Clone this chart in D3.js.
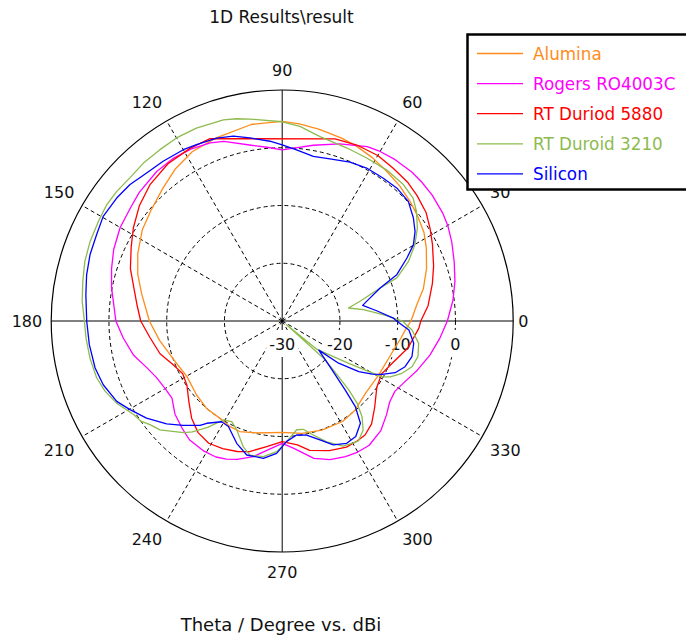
<!DOCTYPE html>
<html><head><meta charset="utf-8">
<script src="https://cdn.jsdelivr.net/npm/d3@7"></script>
<style>
html,body{margin:0;padding:0;background:#fff;}
svg{display:block;font-family:"DejaVu Sans",Verdana,sans-serif;}
</style>
</head><body>
<svg id="chart" width="686" height="640"></svg>
<script>
// ---------- data ----------
const seriesNames  = ["Alumina","Rogers RO4003C","RT Duriod 5880","RT Duroid 3210","Silicon"];
const seriesColors = ["#ff8c1a","#ff00ff","#ff0000","#8dbb4e","#0000ff"];
const angleTicks   = [0,30,60,90,120,150,180,210,240,270,300,330];
const radialTicks  = [-30,-20,-10,0];
const ringValues   = [-20,-10,0];
const chartTitle   = "1D Results\\result";
const axisTitle    = "Theta / Degree vs. dBi";

const aluminaTheta = [0,7,13,20,27,32,38,43,49,55,61,67,72,79,85,90,99,110,118,125,132,140,147,155,162,169,180,189,201,210,221,229,237,244,249,257,270,280,290,301,309,319,331,344,352,356];
const aluminaDb    = [-7.7,-6.5,-4.9,-3.4,-2.0,-1.05,-0.3,0.3,1.0,1.6,2.3,2.9,3.3,3.8,4.25,4.55,4.45,3.7,3.2,2.2,0.9,-0.3,-1.1,-2.4,-3.7,-5.2,-7.0,-8.5,-10.2,-10.9,-10.4,-10.0,-10.0,-9.6,-9.5,-10.1,-10.7,-10.25,-9.9,-9.7,-10.05,-10.9,-10.85,-10.2,-9.2,-8.6];

const rogersTheta = [0,7,13,19,25,30,34,40,45,49,55,60,64,72,80,86,90,95,100,108,112,118,124,130,138,143,150,157,163,169,180,186,193,199,204,210,215,221,227,232,239,244,248,252,258,263,270,275,283,289,295,300,305,312,318,323,328,333,340,347,354];
const rogersDb    = [-1.4,-0.2,0.7,1.5,2.4,3.1,3.5,3.9,4.1,4.2,4.1,3.9,3.6,2.25,0.9,0.0,-0.35,0.2,0.9,2.7,3.25,3.7,3.9,3.8,3.3,2.8,2.4,1.7,0.9,0.1,-1.2,-2.3,-3.6,-5.2,-6.1,-6.6,-6.7,-5.4,-4.6,-3.9,-3.7,-3.8,-4.2,-4.8,-6.0,-7.4,-8.8,-7.9,-5.6,-4.6,-4.1,-3.8,-3.74,-4.47,-5.7,-6.7,-7.0,-6.4,-5.1,-3.75,-2.5];

const duroid5880Theta = [0,6,14,20,27,32,37,43,48,54,60,67,73.8,111.6,118,126,134,141,148,154,161,167,174,180,187,195,202,208,214,221,227,233,239,245,251,256,263,270,277,282,290,297,302,306,311,317,325,332,339,348,357];
const duroid5880Db    = [-6.0,-4.6,-3.2,-2.1,-0.8,0.2,1.2,1.9,2.4,2.7,3.1,3.1,2.85,3.95,3.9,3.65,2.9,1.8,0.4,-0.9,-2.2,-3.6,-4.75,-5.5,-6.9,-8.1,-9.7,-10.5,-10.1,-8.6,-7.0,-5.8,-5.3,-5.6,-6.1,-6.7,-8.1,-9.1,-8.4,-7.1,-6.1,-5.5,-5.5,-5.6,-6.4,-8.1,-10.0,-10.5,-9.6,-7.7,-6.3];

const duroid3210Theta = [0,3.6,8,11.1,14.2,18.6,20.6,25.3,29.9,34.5,39.2,43.2,48.4,55.4,62.6,69.6,78.4,84.8,90,99,102.7,106.3,114,120,125.5,131.3,136.8,142,146.5,151.5,157.5,163.2,168.8,174.4,180,185,191,197,201.6,206.4,212.2,215.3,218.1,221.7,224,228.5,231,235,239.2,243.4,247.4,252.8,256.5,262.1,267.6,272.1,277.6,281,283.9,290.2,296,300,302.5,306.6,309.8,312.3,314,315.4,317.9,320,320.8,327.5,330.8,332.7,336.4,340.6,345.3,350.7,356];
const duroid3210Db    = [-9.2,-12.5,-15.8,-18.3,-16.1,-12.1,-8.8,-5.8,-3.5,-1.6,0.0,1.1,1.6,1.8,1.8,2.0,2.6,3.85,4.5,5.4,5.9,6.3,6.55,6.6,6.45,6.4,6.2,6.4,6.45,6.2,6.0,5.7,5.2,4.8,4.25,4.1,3.9,3.6,3.0,2.0,0.4,0.0,-0.9,-1.65,-2.6,-4.2,-5.3,-7.5,-10.05,-10.5,-9.55,-7.2,-6.1,-6.3,-7.35,-9.1,-11.0,-10.9,-9.97,-7.7,-5.9,-5.6,-5.4,-6.5,-8.4,-10.7,-13.4,-16.3,-19.9,-29,-22.2,-16.35,-10.2,-8.94,-7.37,-6.17,-5.7,-6.05,-7.47];

const siliconTheta = [0,1.5,6.2,11,13.1,18.6,22,26.8,30.2,34,38.2,43.5,49.3,54.7,61.1,66.9,73.6,79.3,85.2,90,93.9,100,104.8,109.7,115.9,120,126.7,132.5,138.1,143.4,149.7,155,161,166.7,172.4,180,187,194.1,199.6,205.9,210.2,215.6,221.7,226.5,231.8,233.6,239,243,249.6,255.2,262.2,267.6,272,277.2,282.1,287.6,292.4,297.8,302.5,307.4,310.5,312.4,315.5,321.5,323.2,326.5,329.5,331.9,335.4,339.6,344.6,350.4,355.9];
const siliconDb    = [-10.2,-10.75,-13.55,-15.8,-15.0,-12.1,-8.6,-5.8,-3.7,-2.25,-1.1,0.1,0.4,0.3,0.25,-0.1,-0.75,-1.0,-0.25,0.5,1.2,2.2,3.1,3.65,3.95,4.25,4.5,4.75,5.4,5.7,5.9,5.45,5.2,4.8,4.3,3.85,3.65,3.4,2.9,1.85,0.5,-1.1,-3.2,-5.1,-7.0,-8.0,-9.65,-9.5,-7.4,-6.0,-6.0,-7.05,-9.1,-10.1,-9.8,-8.4,-6.8,-6.05,-6.3,-7.7,-10.5,-13.8,-17.9,-21.9,-17.8,-14.1,-11.9,-10.4,-8.5,-7.3,-6.7,-6.9,-8.0];

const seriesTheta = [aluminaTheta, rogersTheta, duroid5880Theta, duroid3210Theta, siliconTheta];
const seriesDb    = [aluminaDb, rogersDb, duroid5880Db, duroid3210Db, siliconDb];

// ---------- layout ----------
const cx = 282.2, cy = 321, R = 231;
const svg = d3.select("#chart");
const r = d3.scaleLinear().domain([-30, 10]).range([0, R]).clamp(true);
const toRad = d => d * Math.PI / 180;

const g = svg.append("g").attr("transform", `translate(${cx},${cy})`);

// dashed rings
g.selectAll("circle.ring").data(ringValues).join("circle")
  .attr("class","ring").attr("r", d => r(d))
  .attr("fill","none").attr("stroke","#000").attr("stroke-width",1)
  .attr("stroke-dasharray","4,3");

// dashed radial spokes
g.selectAll("line.spoke").data(angleTicks.filter(a => a % 90 !== 0)).join("line")
  .attr("class","spoke")
  .attr("x1",0).attr("y1",0)
  .attr("x2", a => r(10) * Math.cos(toRad(a)))
  .attr("y2", a => -r(10) * Math.sin(toRad(a)))
  .attr("stroke","#000").attr("stroke-width",1).attr("stroke-dasharray","4,3");

// solid axes
g.selectAll("line.axis").data([0, 90]).join("line")
  .attr("class","axis")
  .attr("x1", a => -r(10) * Math.cos(toRad(a)))
  .attr("y1", a => r(10) * Math.sin(toRad(a)))
  .attr("x2", a => r(10) * Math.cos(toRad(a)))
  .attr("y2", a => -r(10) * Math.sin(toRad(a)))
  .attr("stroke","#000").attr("stroke-width",1);

// outer circle
g.append("circle").attr("r", r(10)).attr("fill","none").attr("stroke","#000").attr("stroke-width",1.2);

// radial tick labels with white background
const rl = g.selectAll("g.rlab").data(radialTicks).join("g").attr("class","rlab")
  .attr("transform", d => `translate(${r(d)},23.5)`);
rl.append("rect").attr("fill","#fff");
rl.append("text").attr("text-anchor","middle").attr("dy","0.36em")
  .attr("font-size",16).attr("fill","#111").text(d => d);
rl.each(function(){
  const t = d3.select(this).select("text").node().getBBox();
  d3.select(this).select("rect")
    .attr("x", t.x - 3).attr("width", t.width + 6)
    .attr("y", -14.5).attr("height", 27);
});

// curves
const lineGen = d3.lineRadial()
  .angle(d => toRad(90 - d[0]))
  .radius(d => r(d[1]))
  .curve(d3.curveLinearClosed);

seriesNames.forEach((name, i) => {
  const pts = seriesTheta[i].map((t, k) => [t, seriesDb[i][k]]);
  g.append("path").datum(pts)
    .attr("d", lineGen)
    .attr("fill","none").attr("stroke", seriesColors[i])
    .attr("stroke-width",1.3).attr("stroke-linejoin","round");
});

// angle labels
const al = svg.append("g").selectAll("text").data(angleTicks).join("text")
  .attr("font-size",16).attr("fill","#111").attr("text-anchor","middle").attr("dy","0.36em")
  .text(d => d);
al.each(function(a){
  const w = this.getBBox().width;
  const ux = Math.cos(toRad(a)), uy = -Math.sin(toRad(a));
  const sx = Math.abs(ux) < 0.01 ? 0 : Math.sign(ux);
  const sy = Math.abs(uy) < 0.01 ? 0 : Math.sign(uy);
  const base = ux > 0.99 ? 236 : 240;
  d3.select(this)
    .attr("x", cx + base * ux + sx * w / 2)
    .attr("y", cy + 244 * uy + sy * 7);
});

// titles
svg.append("text").attr("x",281.5).attr("y",17).attr("dy","0.36em")
  .attr("text-anchor","middle").attr("font-size",17).attr("fill","#111").text(chartTitle);
svg.append("text").attr("x",281).attr("y",625).attr("dy","0.36em")
  .attr("text-anchor","middle").attr("font-size",18).attr("fill","#111").text(axisTitle);

// legend
const lg = svg.append("g");
lg.append("rect").attr("x",467.5).attr("y",34.5).attr("width",240).attr("height",155)
  .attr("fill","#fff").attr("stroke","#000").attr("stroke-width",2.5);
const items = lg.selectAll("g.item").data(seriesNames).join("g").attr("class","item")
  .attr("transform", (d, i) => `translate(0,${53.5 + i * 30.1})`);
items.append("line").attr("x1",477).attr("x2",523).attr("y1",0).attr("y2",0)
  .attr("stroke", (d, i) => seriesColors[i]).attr("stroke-width",1.3);
items.append("text").attr("x",533).attr("y",0).attr("dy","0.36em")
  .attr("font-size",16.8).attr("fill", (d, i) => seriesColors[i]).text(d => d);
</script>
</body></html>
